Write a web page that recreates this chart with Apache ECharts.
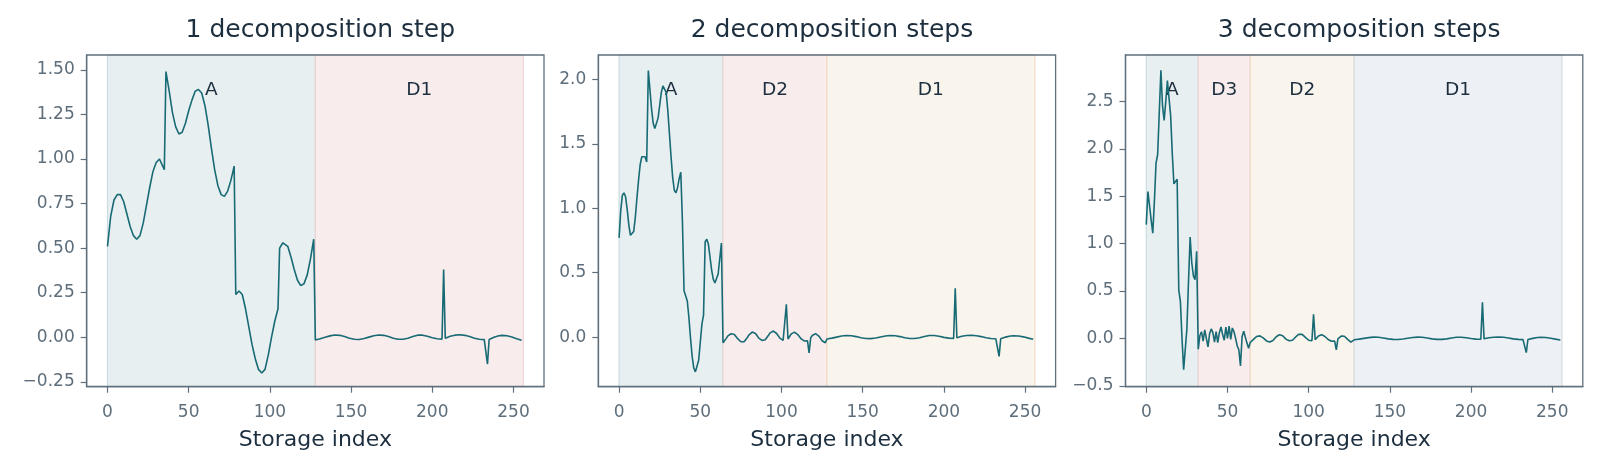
<!DOCTYPE html>
<html lang="en">
<head>
    <meta charset="UTF-8">
    <title>Wavelet decomposition steps</title>
    <script src="https://cdn.jsdelivr.net/npm/echarts@6.0.0/dist/echarts.min.js"></script>
    <style>
        html, body { margin: 0; padding: 0; background: #ffffff; }
        #chart { width: 1600px; height: 467px; }
    </style>
</head>
<body>
    <div id="chart"></div>
    <script type="text/javascript">
        // Data
        const titles = ['1 decomposition step', '2 decomposition steps', '3 decomposition steps'];
        const xTicks = [0, 50, 100, 150, 200, 250];
        const yTicks1 = [-0.25, 0, 0.25, 0.5, 0.75, 1.0, 1.25, 1.5];
        const yTicks2 = [0, 0.5, 1.0, 1.5, 2.0];
        const yTicks3 = [-0.5, 0, 0.5, 1.0, 1.5, 2.0, 2.5];

        // span names and [start, end] storage indices per panel
        const spanNames1 = ['A', 'D1'];
        const spanEdges1 = [[0, 128], [128, 256]];
        const spanNames2 = ['A', 'D2', 'D1'];
        const spanEdges2 = [[0, 64], [64, 128], [128, 256]];
        const spanNames3 = ['A', 'D3', 'D2', 'D1'];
        const spanEdges3 = [[0, 32], [32, 64], [64, 128], [128, 256]];

        // approximation after 1 step, [index, value]
        const approx1 = [
            [0, 0.51], [2, 0.68], [4, 0.77], [6, 0.80], [8, 0.80], [10, 0.76], [12, 0.69], [14, 0.62],
            [16, 0.57], [18, 0.55], [20, 0.57], [22, 0.64], [24, 0.74], [26, 0.84], [28, 0.93], [30, 0.98],
            [32, 1.00], [33, 0.99], [34, 0.96], [35, 0.94], [36, 1.49], [38, 1.38], [40, 1.26], [42, 1.18],
            [44, 1.14], [46, 1.15], [48, 1.20], [50, 1.27], [52, 1.33], [54, 1.38], [56, 1.39], [58, 1.37],
            [60, 1.30], [62, 1.19], [64, 1.06], [66, 0.94], [68, 0.85], [70, 0.80], [72, 0.79], [74, 0.82],
            [76, 0.88], [78, 0.96], [79, 0.24], [81, 0.26], [83, 0.24], [85, 0.16], [87, 0.06], [89, -0.04],
            [91, -0.12], [93, -0.18], [95, -0.20], [97, -0.18], [99, -0.10], [101, 0.00], [103, 0.09],
            [105, 0.16], [106, 0.50], [108, 0.53], [109, 0.54], [111, 0.51], [113, 0.45], [115, 0.38],
            [117, 0.32], [119, 0.29], [121, 0.30], [123, 0.35], [125, 0.44], [127, 0.55]
        ];
        // first-level detail, same in every panel, [index, value]
        const detail1 = [
            [128, -0.015], [131, -0.008], [134, 0.000], [137, 0.008], [140, 0.013], [143, 0.011],
            [146, 0.004], [149, -0.005], [152, -0.011], [155, -0.012], [158, -0.007], [161, 0.001],
            [164, 0.009], [167, 0.013], [170, 0.011], [173, 0.004], [176, -0.005], [179, -0.011],
            [182, -0.011], [185, -0.005], [188, 0.004], [191, 0.012], [194, 0.012], [197, 0.006],
            [200, -0.002], [203, -0.008], [206, -0.010], [207, 0.380], [208, -0.005], [211, 0.006],
            [214, 0.012], [217, 0.014], [220, 0.011], [223, 0.004], [226, -0.005], [229, -0.011],
            [232, -0.013], [233, -0.013], [234, -0.150], [235, -0.012], [238, 0.000], [241, 0.009],
            [243, 0.011], [246, 0.009], [249, 0.002], [252, -0.008], [255, -0.017]
        ];
        // approximation after 2 steps, indices 0..63
        const approx2 = [
            0.77, 0.98, 1.10, 1.12, 1.09, 0.99, 0.87, 0.79, 0.78, 0.82, 0.93, 1.08, 1.22, 1.34, 1.40, 1.41,
            1.40, 1.36, 2.07, 1.92, 1.77, 1.66, 1.62, 1.63, 1.70, 1.80, 1.90, 1.95, 1.96, 1.90, 1.76, 1.58,
            1.40, 1.24, 1.14, 1.12, 1.16, 1.23, 1.28, 0.90, 0.36, 0.35, 0.28, 0.15, -0.01, -0.15, -0.24, -0.27,
            -0.26, -0.18, -0.04, 0.10, 0.17, 0.74, 0.76, 0.72, 0.62, 0.52, 0.45, 0.42, 0.42, 0.49, 0.61, 0.73
        ];
        // second-level detail, indices 64..127
        const detail2 = [
            -0.044, -0.030, -0.010, 0.010, 0.020, 0.026, 0.026, 0.020, 0.005, -0.012, -0.027, -0.036, -0.039, -0.036, -0.022, -0.003,
            0.017, 0.032, 0.039, 0.038, 0.028, 0.010, -0.008, -0.020, -0.026, -0.026, -0.020, -0.005, 0.015, 0.033, 0.044, 0.047,
            0.042, 0.028, 0.010, -0.008, -0.020, -0.026, -0.024, 0.254, -0.015, 0.005, 0.025, 0.037, 0.039, 0.035, 0.020, 0.004,
            -0.012, -0.025, -0.030, -0.031, -0.028, -0.122, -0.005, 0.012, 0.024, 0.027, 0.022, 0.008, -0.010, -0.028, -0.040, -0.044
        ];
        // approximation after 3 steps, indices 0..31
        const approx3 = [
            1.20, 1.55, 1.54, 1.25, 1.11, 1.45, 1.85, 1.94, 1.95, 2.83, 2.45, 2.30, 2.50, 2.72, 2.74, 2.35,
            1.95, 1.63, 1.64, 1.68, 0.51, 0.39, 0.00, -0.33, -0.34, 0.10, 0.60, 1.07, 0.80, 0.66, 0.62, 0.92
        ];
        // third-level detail, indices 32..63
        const detail3 = [
            -0.115, 0.03, 0.07, -0.03, 0.09, 0.00, -0.09, 0.05, 0.10, 0.06, -0.04, 0.07, -0.045, 0.06, 0.12, 0.04,
            -0.02, 0.12, 0.00, 0.13, -0.01, 0.11, 0.07, 0.00, -0.08, -0.12, -0.29, 0.02, 0.075, 0.06, -0.05, -0.105
        ];

        // Helpers
        const spanFill = ['#e7eff1', '#f8ecec', '#f9f4ec', '#edf0f4'];
        const spanEdge = ['#cbdcdf', '#ecd3d3', '#f0dcc8', '#d6dee6'];
        const inkDark = '#1d2f3f';
        const inkGray = '#5e6e7b';
        const lineColor = '#186a74';

        function indexed(values, start) {
            return values.map((v, i) => [start + i, v]);
        }
        function minusSign(s) {
            return s.replace('-', '\u2212');
        }

        const series = [
            approx1.concat(detail1),
            indexed(approx2, 0).concat(indexed(detail2, 64)).concat(detail1),
            indexed(approx3, 0).concat(indexed(detail3, 32)).concat(indexed(detail2, 64)).concat(detail1)
        ];
        const spans = [[spanNames1, spanEdges1], [spanNames2, spanEdges2], [spanNames3, spanEdges3]];
        const yTicks = [yTicks1, yTicks2, yTicks3];
        const yDigits = [2, 1, 1];
        const yRange = [[-0.277, 1.583], [-0.385, 2.19], [-0.51, 2.99]];
        const gridLeft = [86.7, 598.3, 1125.5];
        const gridWidth = 457.3;

        const option = {
            animation: false,
            backgroundColor: '#ffffff',
            textStyle: { fontFamily: 'DejaVu Sans' },
            title: titles.map((t, i) => ({
                text: t,
                left: gridLeft[i] + gridWidth / 2,
                top: 13,
                textAlign: 'center',
                textStyle: { fontSize: 25, fontWeight: 'normal', color: inkDark, fontFamily: 'DejaVu Sans' }
            })),
            grid: gridLeft.map(l => ({
                left: l, top: 55, width: gridWidth, height: 331.7,
                show: true, z: 10, backgroundColor: 'transparent',
                borderColor: '#5f6f7c', borderWidth: 1.3
            })),
            xAxis: gridLeft.map((l, i) => ({
                type: 'value', gridIndex: i, min: -12.8, max: 268.8, z: 10,
                name: 'Storage index', nameLocation: 'middle', nameGap: 43,
                nameTextStyle: { fontSize: 22, color: inkDark },
                splitLine: { show: false },
                axisLine: { show: true, onZero: false, lineStyle: { color: '#5f6f7c', width: 1.3 } },
                axisTick: { show: true, length: 6, customValues: xTicks, lineStyle: { color: '#5f6f7c', width: 1.2 } },
                axisLabel: { customValues: xTicks, fontSize: 17, color: inkGray, margin: 17 }
            })),
            yAxis: gridLeft.map((l, i) => ({
                type: 'value', gridIndex: i, min: yRange[i][0], max: yRange[i][1], z: 10,
                splitLine: { show: false },
                axisLine: { show: true, onZero: false, lineStyle: { color: '#5f6f7c', width: 1.3 } },
                axisTick: { show: true, length: 6, customValues: yTicks[i], lineStyle: { color: '#5f6f7c', width: 1.2 } },
                axisLabel: {
                    customValues: yTicks[i], fontSize: 17, color: inkGray, margin: 12,
                    formatter: v => minusSign(Number(v).toFixed(yDigits[i]))
                }
            })),
            series: series.map((data, i) => ({
                type: 'line',
                xAxisIndex: i,
                yAxisIndex: i,
                data: data,
                showSymbol: false,
                lineStyle: { color: lineColor, width: 1.6 },
                itemStyle: { color: lineColor },
                z: 3,
                markArea: {
                    silent: true,
                    label: {
                        show: true, position: 'insideTop', distance: 26,
                        fontSize: 18.5, color: inkDark, fontFamily: 'DejaVu Sans'
                    },
                    data: spans[i][0].map((name, k) => [
                        {
                            name: name,
                            xAxis: spans[i][1][k][0],
                            itemStyle: { color: spanFill[k], borderColor: spanEdge[k], borderWidth: 1.2 }
                        },
                        { xAxis: spans[i][1][k][1] }
                    ])
                }
            }))
        };

        const chart = echarts.init(document.getElementById('chart'), null, { renderer: 'canvas' });
        chart.setOption(option);
    </script>
</body>
</html>
